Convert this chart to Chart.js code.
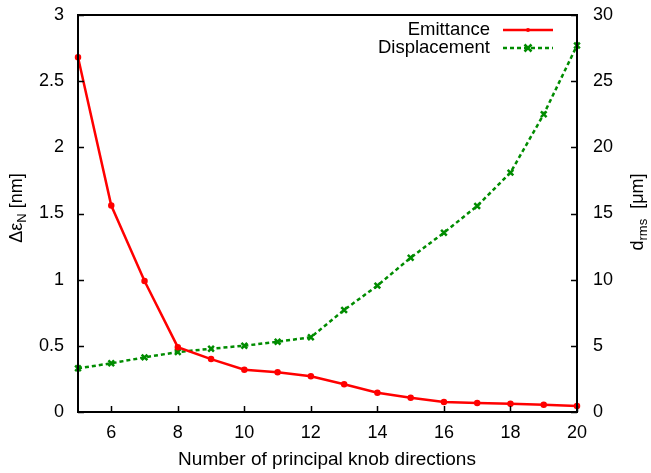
<!DOCTYPE html>
<html lang="en">
  <head>
    <meta charset="UTF-8" />
    <title>Emittance and displacement vs knob directions</title>
    <script src="https://cdn.jsdelivr.net/npm/chart.js"></script>
    <style>
      html, body { margin: 0; padding: 0; background: #fff; }
      #wrap { width: 651px; height: 473px; }
    </style>
  </head>
  <body>
    <div id="wrap"><canvas id="chart"></canvas></div>
    <script>
      const knobs = [5, 6, 7, 8, 9, 10, 11, 12, 13, 14, 15, 16, 17, 18, 19, 20];
      const emittance = [2.68, 1.56, 0.99, 0.49, 0.40, 0.32, 0.30, 0.27, 0.21, 0.146, 0.108, 0.076, 0.068, 0.063, 0.055, 0.045];
      const displacement = [3.30, 3.68, 4.13, 4.53, 4.78, 5.01, 5.31, 5.65, 7.71, 9.55, 11.66, 13.55, 15.57, 18.09, 22.5, 27.7];
      const xTicks = [6, 8, 10, 12, 14, 16, 18, 20];
      const yTicks = [0, 0.5, 1, 1.5, 2, 2.5, 3];
      const y2Ticks = [0, 5, 10, 15, 20, 25, 30];

      const FONT = "'Liberation Sans', Arial, Helvetica, sans-serif";
      const SIZE = 18;
      const RED = "#ff0000";
      const GREEN = "#008c00";

      function pts(ys) {
        return knobs.map((x, i) => ({ x: x, y: ys[i] }));
      }

      // text with a subscript part, e.g. ["Δε", "N", " [nm]"]
      function subText(ctx, parts, cx, cy) {
        const big = SIZE + "px " + FONT, small = "13px " + FONT;
        ctx.font = big;
        const w0 = ctx.measureText(parts[0]).width;
        const w2 = ctx.measureText(parts[2]).width;
        ctx.font = small;
        const w1 = ctx.measureText(parts[1]).width;
        let x = cx - (w0 + w1 + w2) / 2;
        ctx.textBaseline = "middle";
        ctx.textAlign = "left";
        ctx.font = big;
        ctx.fillText(parts[0], x, cy);
        x += w0;
        ctx.font = small;
        ctx.fillText(parts[1], x, cy + 5);
        x += w1;
        ctx.font = big;
        ctx.fillText(parts[2], x, cy);
      }

      const frame = {
        id: "frame",
        afterDraw(chart) {
          const { ctx, chartArea: a, scales } = chart;
          ctx.save();
          ctx.strokeStyle = "#000";
          ctx.lineWidth = 2;
          ctx.strokeRect(a.left, a.top, a.right - a.left, a.bottom - a.top);
          ctx.lineWidth = 1.5;
          ctx.beginPath();
          xTicks.forEach((v) => {
            const px = Math.round(scales.x.getPixelForValue(v)) + 0.5;
            ctx.moveTo(px, a.bottom);
            ctx.lineTo(px, a.bottom - 6);
          });
          yTicks.forEach((v) => {
            const py = Math.round(scales.y.getPixelForValue(v)) + 0.5;
            ctx.moveTo(a.left, py);
            ctx.lineTo(a.left + 6, py);
          });
          y2Ticks.forEach((v) => {
            const py = Math.round(scales.y2.getPixelForValue(v)) + 0.5;
            ctx.moveTo(a.right, py);
            ctx.lineTo(a.right - 6, py);
          });
          ctx.stroke();

          // axis titles
          ctx.fillStyle = "#000";
          ctx.font = "19px " + FONT;
          ctx.textAlign = "center";
          ctx.textBaseline = "middle";
          ctx.fillText("Number of principal knob directions", 327, 460);

          ctx.save();
          ctx.translate(17, 208);
          ctx.rotate(-Math.PI / 2);
          subText(ctx, ["Δε", "N", " [nm]"], 0, 0);
          ctx.restore();

          ctx.save();
          ctx.translate(638, 212);
          ctx.rotate(-Math.PI / 2);
          subText(ctx, ["d", "rms", "  [μm]"], 0, 0);
          ctx.restore();

          // legend
          const items = [
            { label: "Emittance", color: RED, dash: [], y: 30, cross: false },
            { label: "Displacement", color: GREEN, dash: [4, 3], y: 48, cross: true },
          ];
          items.forEach((it) => {
            ctx.font = "18.5px " + FONT;
            ctx.textAlign = "right";
            ctx.fillStyle = "#000";
            ctx.fillText(it.label, 490, it.y);
            ctx.strokeStyle = it.color;
            ctx.lineWidth = 2.5;
            ctx.setLineDash(it.dash);
            ctx.beginPath();
            ctx.moveTo(503, it.y);
            ctx.lineTo(553, it.y);
            ctx.stroke();
            ctx.setLineDash([]);
            if (it.cross) {
              ctx.lineWidth = 2.5;
              ctx.beginPath();
              ctx.moveTo(524.5, it.y - 3.5);
              ctx.lineTo(531.5, it.y + 3.5);
              ctx.moveTo(531.5, it.y - 3.5);
              ctx.lineTo(524.5, it.y + 3.5);
              ctx.stroke();
            } else {
              ctx.fillStyle = it.color;
              ctx.beginPath();
              ctx.arc(528, it.y, 2, 0, Math.PI * 2);
              ctx.fill();
            }
          });
          ctx.restore();
        },
      };

      const tickFont = { family: FONT, size: SIZE };
      const plain = (v) => String(v);
      const noPad = (s) => {
        s.paddingTop = 0;
        s.paddingBottom = 0;
        s.paddingLeft = 0;
        s.paddingRight = 0;
      };

      new Chart(document.getElementById("chart"), {
        type: "line",
        data: {
          datasets: [
            {
              label: "Emittance",
              data: pts(emittance),
              yAxisID: "y",
              borderColor: RED,
              backgroundColor: RED,
              borderWidth: 2.5,
              pointRadius: 2,
              pointStyle: "circle",
              tension: 0,
              clip: false,
            },
            {
              label: "Displacement",
              data: pts(displacement),
              yAxisID: "y2",
              borderColor: GREEN,
              backgroundColor: GREEN,
              borderWidth: 2.5,
              borderDash: [4, 3],
              pointRadius: 4,
              pointBorderWidth: 2.5,
              pointStyle: "crossRot",
              tension: 0,
              clip: false,
            },
          ],
        },
        options: {
          responsive: true,
          maintainAspectRatio: false,
          animation: false,
          layout: { padding: { top: 15, left: 0, right: 0, bottom: 0 } },
          plugins: { legend: { display: false }, tooltip: { enabled: false } },
          scales: {
            x: {
              type: "linear",
              min: 5,
              max: 20,
              grid: { display: false, drawTicks: false },
              border: { display: false },
              afterBuildTicks: (s) => { s.ticks = xTicks.map((v) => ({ value: v })); },
              afterFit: (s) => { s.height = 61; noPad(s); },
              ticks: { color: "#000", font: tickFont, padding: 10, maxRotation: 0, callback: plain },
            },
            y: {
              position: "left",
              min: 0,
              max: 3,
              grid: { display: false, drawTicks: false },
              border: { display: false },
              afterBuildTicks: (s) => { s.ticks = yTicks.map((v) => ({ value: v })); },
              afterFit: (s) => { s.width = 78; noPad(s); },
              ticks: { color: "#000", font: tickFont, padding: 14, callback: plain },
            },
            y2: {
              position: "right",
              min: 0,
              max: 30,
              grid: { display: false, drawTicks: false },
              border: { display: false },
              afterBuildTicks: (s) => { s.ticks = y2Ticks.map((v) => ({ value: v })); },
              afterFit: (s) => { s.width = 74; noPad(s); },
              ticks: { color: "#000", font: tickFont, padding: 16, callback: plain },
            },
          },
        },
        plugins: [frame],
      });
    </script>
  </body>
</html>
